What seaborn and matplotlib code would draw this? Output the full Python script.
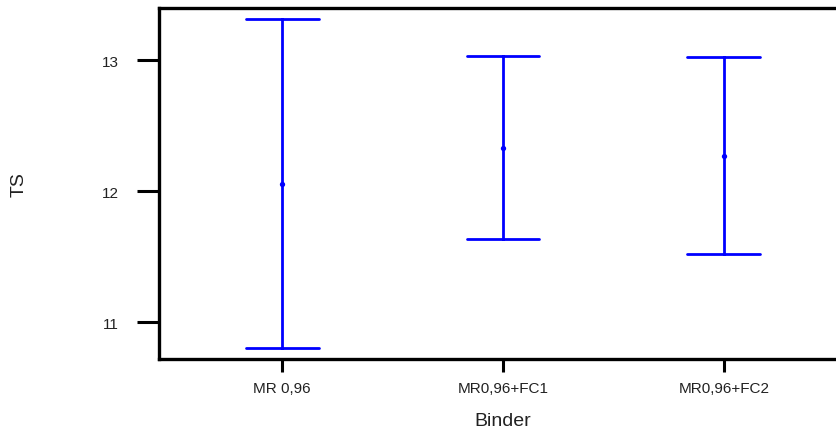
import matplotlib
matplotlib.use("Agg")
import matplotlib.pyplot as plt
import seaborn as sns
import pandas as pd

binders = ["MR 0,96", "MR0,96+FC1", "MR0,96+FC2"]
ts_means = [12.056, 12.332, 12.271]
ts_halfwidths = [1.257, 0.698, 0.752]

rows = []
for b, m, h in zip(binders, ts_means, ts_halfwidths):
    for v in (m - h, m, m + h):
        rows.append({"Binder": b, "TS": v})
df = pd.DataFrame(rows)

sns.set_style("white")
plt.rcParams["font.family"] = ["Liberation Sans", "DejaVu Sans"]

fig = plt.figure(figsize=(8.37, 4.35), dpi=100)
ax = fig.add_axes([159 / 837, 1 - 360 / 435, (847 - 159) / 837, (360 - 9) / 435])

sns.pointplot(data=df, x="Binder", y="TS", order=binders, estimator="mean",
              errorbar=lambda v: (v.min(), v.max()), capsize=0.33,
              color="#0000ff", linestyle="none", marker="o", markersize=1.8,
              err_kws={"linewidth": 2.0}, ax=ax)

ax.set_xlim(-0.557, 2.557)
ax.set_ylim(10.718, 13.397)
ax.set_yticks([11, 12, 13])
ax.set_yticklabels(["11", "12", "13"])

for s in ["left", "bottom", "top", "right"]:
    ax.spines[s].set_visible(True)
    ax.spines[s].set_linewidth(2.4)
    ax.spines[s].set_color("black")

ax.tick_params(axis="y", which="major", length=16, width=2.2, color="black",
               labelsize=11, pad=13, left=True, labelcolor="#222222")
ax.tick_params(axis="x", which="major", length=9, width=2.2, color="black",
               labelsize=11, pad=7, bottom=True, labelcolor="#222222")

ax.set_xlabel("Binder", fontsize=14, labelpad=12, color="#222222")
ax.set_ylabel("TS", fontsize=14, labelpad=53, color="#222222")

fig.savefig("out.png", dpi=100)
